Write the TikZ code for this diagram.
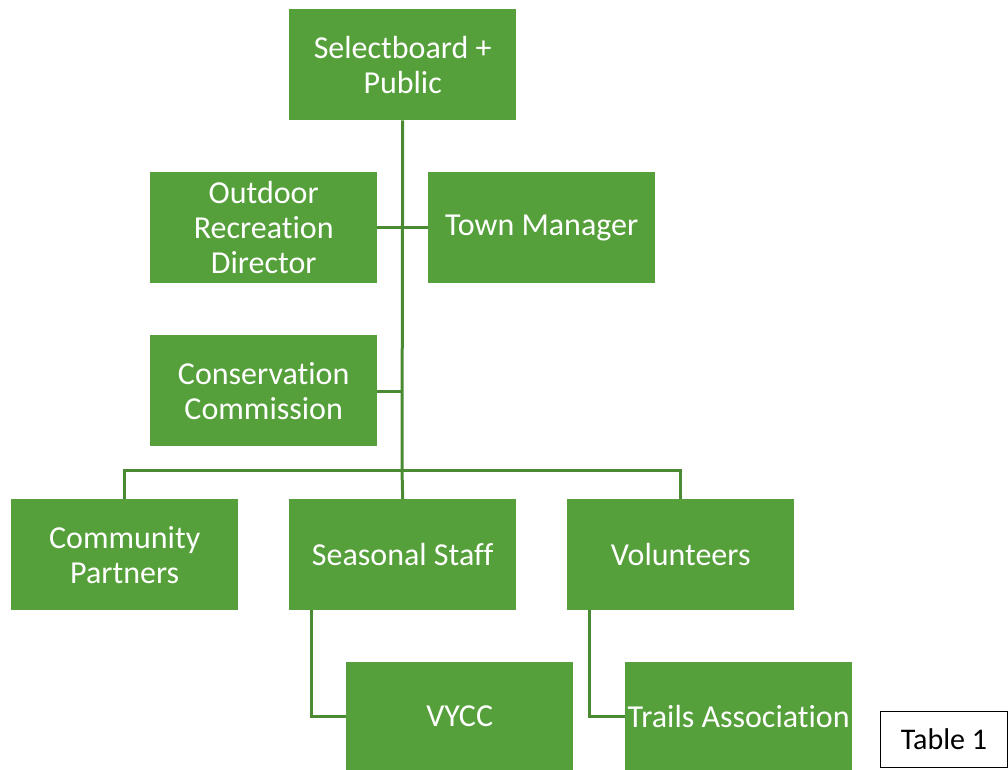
\documentclass[tikz,border=0pt]{standalone}
\usepackage{fontspec}
\setmainfont{Carlito}[Ligatures={NoCommon}]
\definecolor{boxgreen}{HTML}{55A03A}
\definecolor{linegreen}{HTML}{4A8A32}
\begin{document}
\begin{tikzpicture}[x=1pt,y=-1pt,
  orgbox/.style={fill=boxgreen, draw=none, minimum width=227pt, minimum height=111pt,
    text=white, align=center, font=\fontsize{32}{35}\selectfont, inner sep=0pt, anchor=north west},
  conn/.style={draw=linegreen, line width=3pt}]
\useasboundingbox (0,0) rectangle (1008,770);
\node[orgbox] (sel) at (289,9) {Selectboard +\\Public};
\node[orgbox] (ord) at (150,172) {Outdoor\\Recreation\\Director};
\node[orgbox] (tm) at (428,172) {Town Manager};
\node[orgbox] (cc) at (150,335) {Conservation\\Commission};
\node[orgbox] (cp) at (11,499) {Community\\Partners};
\node[orgbox] (ss) at (289,499) {Seasonal Staff};
\node[orgbox] (vol) at (567,499) {Volunteers};
\node[orgbox, minimum height=108pt] (vycc) at (346,662) {VYCC};
\node[orgbox, minimum height=108pt] (ta) at (625,662) {Trails Association};
\node[draw=black, line width=1pt, minimum width=127pt, minimum height=56pt, anchor=north west,
  inner sep=0pt, font=\fontsize{30}{32}\selectfont] (tab) at (880,711) {Table 1};
\coordinate (bus) at (402,470);
\coordinate (j1) at (402,227);
\coordinate (j2) at (402,391);
\draw[conn] (sel.south) -- (bus);
\draw[conn] (ord.east |- j1) -- (tm.west |- j1);
\draw[conn] (cc.east |- j2) -- (j2);
\draw[conn] (cp.north) |- (bus) -| (vol.north);
\draw[conn] (bus) -- (ss.north);
\draw[conn] (311,610) |- (vycc.west);
\draw[conn] (589,610) |- (ta.west);
\end{tikzpicture}
\end{document}
